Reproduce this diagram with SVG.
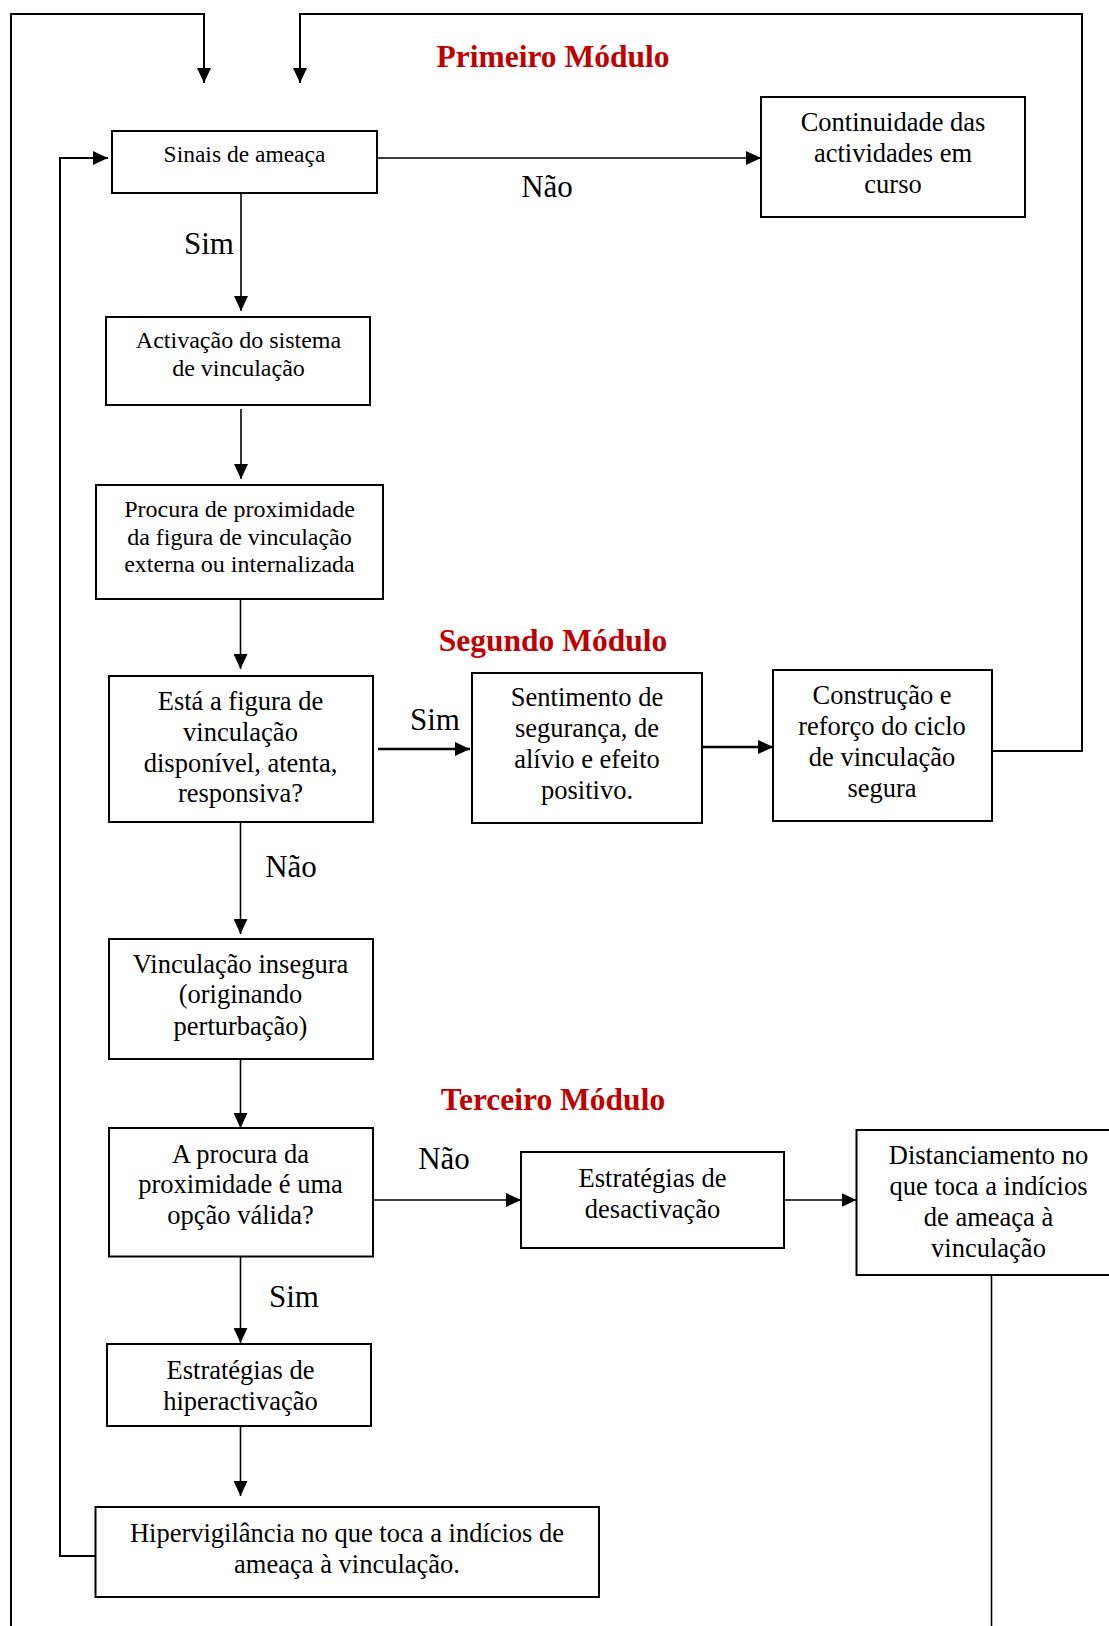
<svg xmlns="http://www.w3.org/2000/svg" width="1109" height="1626" viewBox="0 0 1109 1626">
<style>
.box{fill:#fff;stroke:#000;stroke-width:2}
.t{font-family:"Liberation Serif","Times New Roman",serif;font-size:26.5px;fill:#000;text-anchor:middle}
.s{font-size:24px}
.lbl{font-family:"Liberation Serif","Times New Roman",serif;font-size:31px;fill:#000;text-anchor:middle}
.title{font-family:"Liberation Serif","Times New Roman",serif;font-size:31.5px;font-weight:bold;fill:#C00000;text-anchor:middle}
.c{fill:none;stroke:#000;stroke-width:1.6}
.thick{stroke-width:2.4}
.loop{fill:none;stroke:#000;stroke-width:2}
</style>
<defs>
<marker id="ah" markerUnits="userSpaceOnUse" markerWidth="15" markerHeight="14" refX="15" refY="7" orient="auto">
<path d="M0,0 L15,7 L0,14 z" fill="#000"/>
</marker>
</defs>
<rect width="1109" height="1626" fill="#fff"/>

<g id="titles">
<text class="title" x="553" y="67">Primeiro Módulo</text>
<text class="title" x="553" y="651">Segundo Módulo</text>
<text class="title" x="553" y="1110">Terceiro Módulo</text>
</g>

<g id="connectors">
<path class="loop" d="M11,1626 V14 H204 V83" marker-end="url(#ah)"/>
<path class="loop" d="M993,751 H1082 V14 H300 V83" marker-end="url(#ah)"/>
<path class="loop" d="M95.5,1556 H60 V158 H108" marker-end="url(#ah)"/>
<path class="c" d="M377,158 H761" marker-end="url(#ah)"/>
<path class="c" d="M241,193 V311" marker-end="url(#ah)"/>
<path class="c" d="M241,409 V479" marker-end="url(#ah)"/>
<path class="c" d="M240.5,599 V669" marker-end="url(#ah)"/>
<path class="c thick" d="M378,749 H470" marker-end="url(#ah)"/>
<path class="c thick" d="M702,747 H773" marker-end="url(#ah)"/>
<path class="c" d="M240.5,822 V934" marker-end="url(#ah)"/>
<path class="c" d="M240.5,1059 V1128" marker-end="url(#ah)"/>
<path class="c" d="M372.7,1200 H521" marker-end="url(#ah)"/>
<path class="c" d="M784,1200 H856.5" marker-end="url(#ah)"/>
<path class="c" d="M991.5,1275 V1626"/>
<path class="c" d="M240.5,1256.5 V1343" marker-end="url(#ah)"/>
<path class="c" d="M240.5,1426 V1496" marker-end="url(#ah)"/>
</g>

<g id="labels">
<text class="lbl" x="547" y="197">Não</text>
<text class="lbl" x="209" y="254">Sim</text>
<text class="lbl" x="435" y="730">Sim</text>
<text class="lbl" x="291" y="877">Não</text>
<text class="lbl" x="444" y="1169">Não</text>
<text class="lbl" x="294" y="1307">Sim</text>
</g>

<g id="sinais">
<rect class="box" x="112" y="131" width="265" height="62"/>
<text class="t" style="font-size:23.5px" x="244.5" y="162">Sinais de ameaça</text>
</g>

<g id="continuidade">
<rect class="box" x="761" y="97" width="264" height="120"/>
<text class="t" x="893" y="131">Continuidade das</text>
<text class="t" x="893" y="162">actividades em</text>
<text class="t" x="893" y="193">curso</text>
</g>

<g id="activacao">
<rect class="box" x="106" y="317" width="264" height="88"/>
<text class="t s" x="238.5" y="348">Activação do sistema</text>
<text class="t s" x="238.5" y="376">de vinculação</text>
</g>

<g id="procura">
<rect class="box" x="96" y="485" width="287" height="114"/>
<text class="t s" x="239.5" y="517">Procura de proximidade</text>
<text class="t s" x="239.5" y="545">da figura de vinculação</text>
<text class="t s" x="239.5" y="572">externa ou internalizada</text>
</g>

<g id="esta">
<rect class="box" x="109" y="676" width="264" height="146"/>
<text class="t" x="240.5" y="710">Está a figura de</text>
<text class="t" x="240.5" y="741">vinculação</text>
<text class="t" x="240.5" y="772">disponível, atenta,</text>
<text class="t" x="240.5" y="802">responsiva?</text>
</g>

<g id="sentimento">
<rect class="box" x="472" y="673" width="230" height="150"/>
<text class="t" x="587" y="706">Sentimento de</text>
<text class="t" x="587" y="737">segurança, de</text>
<text class="t" x="587" y="768">alívio e efeito</text>
<text class="t" x="587" y="799">positivo.</text>
</g>

<g id="construcao">
<rect class="box" x="773" y="670" width="219" height="151"/>
<text class="t" x="882" y="704">Construção e</text>
<text class="t" x="882" y="735">reforço do ciclo</text>
<text class="t" x="882" y="766">de vinculação</text>
<text class="t" x="882" y="797">segura</text>
</g>

<g id="insegura">
<rect class="box" x="109" y="939" width="264" height="120"/>
<text class="t" x="240.5" y="973">Vinculação insegura</text>
<text class="t" x="240.5" y="1003">(originando</text>
<text class="t" x="240.5" y="1035">perturbação)</text>
</g>

<g id="aprocura">
<rect class="box" x="109" y="1128" width="264" height="128.5"/>
<text class="t" x="240.5" y="1163">A procura da</text>
<text class="t" x="240.5" y="1193">proximidade é uma</text>
<text class="t" x="240.5" y="1224">opção válida?</text>
</g>

<g id="desactivacao">
<rect class="box" x="521" y="1152" width="263" height="96"/>
<text class="t" x="652.5" y="1187">Estratégias de</text>
<text class="t" x="652.5" y="1218">desactivação</text>
</g>

<g id="distanciamento">
<rect class="box" x="856.5" y="1130" width="264" height="145"/>
<text class="t" x="988.5" y="1164">Distanciamento no</text>
<text class="t" x="988.5" y="1195">que toca a indícios</text>
<text class="t" x="988.5" y="1226">de ameaça à</text>
<text class="t" x="988.5" y="1257">vinculação</text>
</g>

<g id="hiperactivacao">
<rect class="box" x="107" y="1344" width="264" height="82"/>
<text class="t" x="240.5" y="1379">Estratégias de</text>
<text class="t" x="240.5" y="1410">hiperactivação</text>
</g>

<g id="hipervigilancia">
<rect class="box" x="95.5" y="1507" width="503.5" height="90"/>
<text class="t" x="347" y="1542">Hipervigilância no que toca a indícios de</text>
<text class="t" x="347" y="1573">ameaça à vinculação.</text>
</g>
</svg>
